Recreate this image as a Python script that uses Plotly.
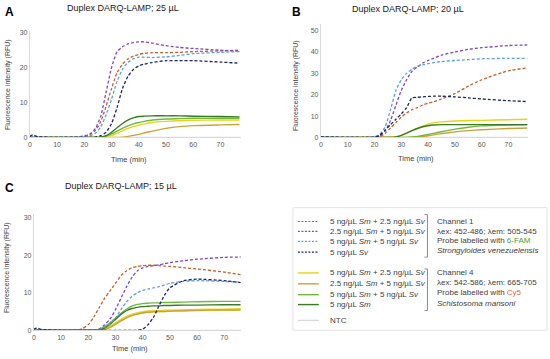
import plotly.graph_objects as go

W, H = 550, 359

# ---------------- data ----------------
T_AB = [0, 1, 3, 10, 18, 20, 22, 24, 26, 28, 30, 32, 34, 36, 38, 40, 42, 45, 50, 55, 60, 70, 77]
T_C = [0, 1, 3, 10, 16, 18, 20, 22, 24, 26, 28, 30, 32, 34, 36, 38, 40, 42, 44, 46, 48, 50, 55, 60, 70, 76]

# Panel A (25 uL)
A_orange = [0.2, 0.2, 0.1, 0, 0.1, 0.3, 0.8, 2, 4.5, 9, 14, 18.5, 21, 22.5, 23.3, 23.8, 24.1, 24.3, 24.3, 24.4, 24.6, 24.8, 25]
A_purple = [0.2, 0.2, 0.1, 0, 0.2, 0.5, 1, 2.5, 6, 13, 20, 24.5, 26, 26.8, 27.2, 27.4, 27.4, 27, 26.3, 25.8, 25.5, 25, 24.7]
A_blue = [0.2, 0.2, 0.1, 0, 0.1, 0.2, 0.5, 1.2, 3, 6.5, 11, 16, 19.5, 21.5, 22.5, 23, 23, 22.9, 23.1, 23.5, 24, 24.4, 24.6]
A_navy = [0.3, 0.7, 0.2, 0, 0, 0, 0, 0.1, 0.5, 1.5, 4, 8.5, 14, 17.5, 19.5, 20.5, 21, 21.5, 22, 22, 22, 21.6, 21.3]
A_yellow = [0, 0, 0, 0, 0, 0, 0, 0, 0.1, 0.3, 0.6, 1.2, 1.9, 2.6, 3.1, 3.5, 3.9, 4.3, 4.6, 4.8, 4.9, 5.0, 5.0]
A_tan = [0, 0, 0, 0, 0, 0, 0, 0, 0, 0, 0, 0, 0.1, 0.3, 0.6, 0.9, 1.3, 1.8, 2.6, 3.1, 3.4, 3.6, 3.7]
A_green = [0, 0, 0, 0, 0, 0, 0, 0, 0.1, 0.4, 1, 1.8, 2.6, 3.3, 3.9, 4.3, 4.6, 5, 5.3, 5.4, 5.5, 5.5, 5.5]
A_dkgreen = [0, 0, 0, 0, 0, 0, 0, 0, 0.1, 0.5, 1.5, 2.8, 4, 5, 5.6, 6, 6.1, 6.2, 6.2, 6.2, 6.1, 6, 5.9]
A_ntc = [0] * len(T_AB)

# Panel B (20 uL)
B_orange = [0.3, 0.3, 0.2, 0, 0, 0, 0.3, 2, 4.5, 7, 9.5, 11.5, 13, 14, 15.2, 16, 16.7, 18, 20.5, 24, 27, 31.2, 32.5]
B_purple = [0.3, 0.3, 0.2, 0, 0, 0.2, 0.8, 3, 8, 15, 22, 27, 31, 33, 34.8, 36, 37, 38.5, 40, 41.2, 42, 43, 43.3]
B_blue = [0.3, 0.3, 0.2, 0, 0, 0.3, 1.5, 5, 13, 22, 27, 30, 32, 33.3, 34, 34.5, 35, 35.5, 36, 36.4, 36.8, 37, 37]
B_navy = [0.3, 0.3, 0.2, 0, 0, 0.2, 1, 3.5, 6, 8.5, 11, 14, 18.5, 18.8, 19, 19.2, 19.3, 19.3, 19, 18.5, 18, 17.2, 16.8]
B_yellow = [0, 0, 0, 0, 0, 0, 0, 0, 0.1, 0.4, 1, 2, 3.2, 4.3, 5.3, 6.2, 6.8, 7.3, 7.7, 7.9, 8, 8.3, 8.5]
B_tan = [0, 0, 0, 0, 0, 0, 0, 0, 0, 0, 0, 0, 0, 0.2, 0.5, 0.8, 1.2, 1.8, 2.6, 3.2, 3.6, 4.2, 4.4]
B_green = [0, 0, 0, 0, 0, 0, 0, 0, 0, 0, 0, 0, 0.2, 0.5, 0.9, 1.4, 1.9, 2.7, 3.9, 4.8, 5.4, 5.8, 5.9]
B_dkgreen = [0, 0, 0, 0, 0, 0, 0, 0, 0, 0.3, 1, 2, 3.2, 4.2, 5, 5.5, 5.8, 6, 6, 6, 6, 6, 6]
B_ntc = [0] * len(T_AB)

# Panel C (15 uL)
C_orange = [0.2, 0.2, 0.1, 0, 0, 0.5, 1.5, 3.5, 6, 8.5, 10.5, 12.5, 14.5, 15.8, 16.6, 17, 17.2, 17.3, 17.3, 17.2, 17.1, 17, 16.7, 16.3, 15.5, 14.8]
C_purple = [0.2, 0.2, 0.1, 0, 0, 0, 0, 0, 0.3, 1.5, 3, 5.5, 8.5, 11.5, 14, 15.8, 16.6, 17, 17.2, 17.4, 17.7, 18, 18.5, 18.9, 19.4, 19.5]
C_blue = [0.2, 0.2, 0.1, 0, 0, 0, 0, 0, 0.2, 0.8, 1.8, 3.3, 5.5, 7.5, 9, 10, 10.6, 11, 11.3, 11.6, 12, 12.5, 13, 13.2, 13, 12.8]
C_navy = [0.3, 0.6, 0.2, 0, 0, 0, 0, 0, 0, 0, 0, 0, 0, 0, 0, 0, 0.3, 1.5, 3.5, 6.5, 9.3, 11.3, 13.2, 13.6, 13.2, 12.7]
C_yellow = [0, 0, 0, 0, 0, 0, 0, 0, 0, 0.3, 1, 1.8, 2.7, 3.5, 4.1, 4.5, 4.8, 5, 5.1, 5.1, 5.2, 5.2, 5.3, 5.4, 5.5, 5.6]
C_tan = [0, 0, 0, 0, 0, 0, 0, 0, 0, 0.2, 0.8, 1.6, 2.5, 3.3, 3.9, 4.3, 4.6, 4.8, 4.9, 5, 5, 5.1, 5.2, 5.3, 5.4, 5.4]
C_green = [0.2, 0.1, 0, 0, 0, 0, 0, 0, 0.3, 1, 2, 3.2, 4.5, 5.6, 6.4, 6.9, 7.1, 7.2, 7.3, 7.3, 7.4, 7.4, 7.5, 7.6, 7.7, 7.7]
C_dkgreen = [0, 0, 0, 0, 0, 0, 0, 0, 0.1, 0.6, 1.6, 2.9, 4.2, 5.2, 5.8, 6.1, 6.3, 6.4, 6.5, 6.5, 6.6, 6.6, 6.7, 6.7, 6.8, 6.8]
C_ntc = [0] * len(T_C)

SERIES_CH1 = ["5 ng/µL <i>Sm</i> + 2.5 ng/µL <i>Sv</i>", "2.5 ng/µL <i>Sm</i> + 5 ng/µL <i>Sv</i>",
              "5 ng/µL <i>Sm</i> + 5 ng/µL <i>Sv</i>", "5 ng/µL <i>Sv</i>"]
SERIES_CH4 = ["5 ng/µL <i>Sm</i> + 2.5 ng/µL <i>Sv</i>", "2.5 ng/µL <i>Sm</i> + 5 ng/µL <i>Sv</i>",
              "5 ng/µL <i>Sm</i> + 5 ng/µL <i>Sv</i>", "5 ng/µL <i>Sm</i>"]
TITLES = ["Duplex DARQ-LAMP; 25 µL", "Duplex DARQ-LAMP; 20 µL", "Duplex DARQ-LAMP; 15 µL"]
LETTERS = ["A", "B", "C"]

# ---------------- style ----------------
COL_CH1 = ["#c0602a", "#7e47c4", "#5a9fe0", "#1c2566"]
COL_CH4 = ["#e8d41a", "#c9a33a", "#72b83f", "#3b7a24"]
COL_NTC = "#d9d9d9"
FONT = "Liberation Sans, Arial, sans-serif"
TXT = "#404040"
TICK = "#595959"


def px(x):
    return x / W


def py(y):
    return 1 - y / H


fig = go.Figure()

panels = [
    (T_AB, [A_orange, A_purple, A_blue, A_navy], [A_yellow, A_tan, A_green, A_dkgreen], A_ntc, "x", "y"),
    (T_AB, [B_orange, B_purple, B_blue, B_navy], [B_yellow, B_tan, B_green, B_dkgreen], B_ntc, "x2", "y2"),
    (T_C, [C_orange, C_purple, C_blue, C_navy], [C_yellow, C_tan, C_green, C_dkgreen], C_ntc, "x3", "y3"),
]

for pi, (t, ch1, ch4, ntc, xa, ya) in enumerate(panels):
    fig.add_trace(go.Scatter(x=t, y=ntc, mode="lines", line=dict(color=COL_NTC, width=1.2),
                             xaxis=xa, yaxis=ya, showlegend=False, hoverinfo="skip"))
    for i, ys in enumerate(ch4):
        w = 2.4 if (pi == 2 and i == 0) else 1.4
        fig.add_trace(go.Scatter(x=t, y=ys, mode="lines",
                                 line=dict(color=COL_CH4[i], width=w, shape="spline", smoothing=0.6),
                                 xaxis=xa, yaxis=ya, showlegend=False, hoverinfo="skip"))
    for i, ys in enumerate(ch1):
        fig.add_trace(go.Scatter(x=t, y=ys, mode="lines",
                                 line=dict(color=COL_CH1[i], width=1.3, dash="3px,2px", shape="spline", smoothing=0.6),
                                 xaxis=xa, yaxis=ya, showlegend=False, hoverinfo="skip"))

axis_common = dict(showgrid=False, zeroline=False, showline=True, linecolor="#d9d9d9", linewidth=1,
                   ticks="", tickfont=dict(size=7, color=TICK, family=FONT), fixedrange=True)

fig.update_layout(
    width=W, height=H, margin=dict(l=0, r=0, t=0, b=0),
    paper_bgcolor="white", plot_bgcolor="white",
    font=dict(family=FONT, color=TXT),
    xaxis=dict(domain=[px(28), px(240)], range=[0, 77.6], tickvals=list(range(0, 80, 10)), anchor="y", **axis_common),
    yaxis=dict(domain=[py(138), py(30)], range=[0, 30.6], tickvals=[0, 10, 20, 30], anchor="x", **axis_common),
    xaxis2=dict(domain=[px(320), px(528)], range=[0, 77.3], tickvals=list(range(0, 80, 10)), anchor="y2", **axis_common),
    yaxis2=dict(domain=[py(138), py(23)], range=[0, 53.2], tickvals=[0, 10, 20, 30, 40, 50], anchor="x2", **axis_common),
    xaxis3=dict(domain=[px(32), px(240)], range=[0, 76.2], tickvals=list(range(0, 80, 10)), anchor="y3", **axis_common),
    yaxis3=dict(domain=[py(333), py(215)], range=[0, 31.05], tickvals=[0, 10, 20, 30], anchor="x3", **axis_common),
)

ann = []
shapes = []

# titles & panel letters
title_pos = [(121, 7.5), (407, 8), (119, 187)]
letter_pos = [(8, 11), (296, 11), (8, 189)]
for i in range(3):
    ann.append(dict(x=px(title_pos[i][0]), y=py(title_pos[i][1]), xref="paper", yref="paper", showarrow=False,
                    text=TITLES[i], font=dict(size=9, color="#222222", family=FONT), xanchor="center", yanchor="middle"))
    ann.append(dict(x=px(letter_pos[i][0]), y=py(letter_pos[i][1]), xref="paper", yref="paper", showarrow=False,
                    text="<b>%s</b>" % LETTERS[i], font=dict(size=12, color="black", family=FONT),
                    xanchor="center", yanchor="middle"))

# axis titles
xt_pos = [(127, 160), (416, 159), (128, 351)]
yt_pos = [(6, 84), (295, 85), (5, 269)]
for i in range(3):
    ann.append(dict(x=px(xt_pos[i][0]), y=py(xt_pos[i][1]), xref="paper", yref="paper", showarrow=False,
                    text="Time (min)", font=dict(size=7.5, color=TXT, family=FONT), xanchor="center", yanchor="middle"))
    ann.append(dict(x=px(yt_pos[i][0]), y=py(yt_pos[i][1]), xref="paper", yref="paper", showarrow=False,
                    text="Fluorescence intensity (RFU)", textangle=-90,
                    font=dict(size=7, color=TXT, family=FONT), xanchor="center", yanchor="middle"))

# custom legend box
shapes.append(dict(type="rect", xref="paper", yref="paper", x0=px(292), x1=px(547), y0=py(333), y1=py(209),
                   line=dict(color="#e3e3e3", width=1), fillcolor="white", layer="below"))

ch1_rows = [223, 233, 243, 254]
ch4_rows = [275, 286, 297, 307]
for i, yy in enumerate(ch1_rows):
    shapes.append(dict(type="line", xref="paper", yref="paper", x0=px(297), x1=px(318), y0=py(yy), y1=py(yy),
                       line=dict(color=COL_CH1[i], width=1.2, dash="2px,1.5px")))
    ann.append(dict(x=px(327), y=py(yy), xref="paper", yref="paper", showarrow=False, text=SERIES_CH1[i],
                    font=dict(size=8, color=TXT, family=FONT), xanchor="left", yanchor="middle"))
for i, yy in enumerate(ch4_rows):
    shapes.append(dict(type="line", xref="paper", yref="paper", x0=px(297), x1=px(318), y0=py(yy), y1=py(yy),
                       line=dict(color=COL_CH4[i], width=1.4)))
    ann.append(dict(x=px(327), y=py(yy), xref="paper", yref="paper", showarrow=False, text=SERIES_CH4[i],
                    font=dict(size=8, color=TXT, family=FONT), xanchor="left", yanchor="middle"))
shapes.append(dict(type="line", xref="paper", yref="paper", x0=px(297), x1=px(318), y0=py(323), y1=py(323),
                   line=dict(color=COL_NTC, width=1.4)))
ann.append(dict(x=px(327), y=py(323), xref="paper", yref="paper", showarrow=False, text="NTC",
                font=dict(size=8, color=TXT, family=FONT), xanchor="left", yanchor="middle"))

# brackets
for (ytop, ybot) in [(216, 259), (271, 313)]:
    path = "M %f,%f L %f,%f L %f,%f L %f,%f" % (px(424), py(ytop), px(427), py(ytop), px(427), py(ybot), px(424), py(ybot))
    shapes.append(dict(type="path", xref="paper", yref="paper", path=path, line=dict(color="#8c8c8c", width=1)))

right_ch1 = ["Channel 1", "λex: 452-486; λem: 505-545",
             "Probe labelled with <span style='color:#4f9a3f'>6-FAM</span>",
             "<i>Strongyloides venezuelensis</i>"]
right_ch4 = ["Channel 4", "λex: 542-586; λem: 665-705",
             "Probe labelled with <span style='color:#d9663f'>Cy5</span>",
             "<i>Schistosoma mansoni</i>"]
for txt, yy in zip(right_ch1, [223, 233, 242, 252]):
    ann.append(dict(x=px(435), y=py(yy), xref="paper", yref="paper", showarrow=False, text=txt,
                    font=dict(size=8, color=TXT, family=FONT), xanchor="left", yanchor="middle"))
for txt, yy in zip(right_ch4, [275, 285, 295, 306]):
    ann.append(dict(x=px(435), y=py(yy), xref="paper", yref="paper", showarrow=False, text=txt,
                    font=dict(size=8, color=TXT, family=FONT), xanchor="left", yanchor="middle"))

fig.update_layout(annotations=ann, shapes=shapes)
fig.write_html("out.html", config={"displayModeBar": False},
               post_script="document.body.style.margin='0';document.body.style.overflow='hidden';")
